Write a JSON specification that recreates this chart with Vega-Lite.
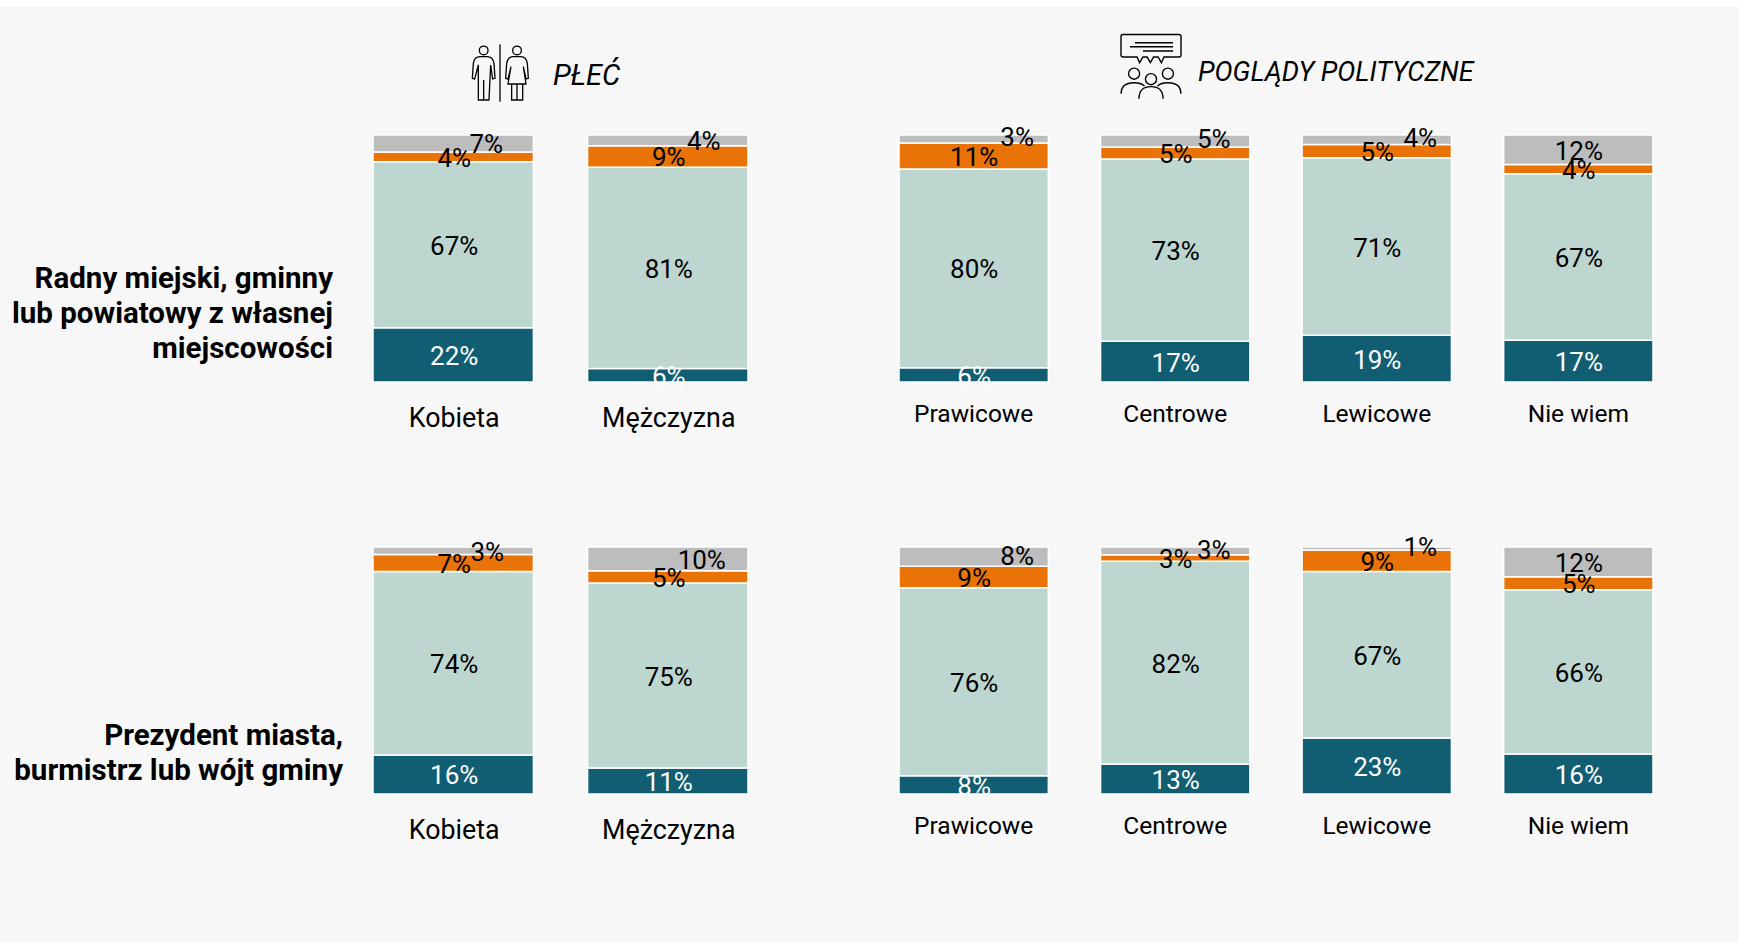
{"$schema":"https://vega.github.io/schema/vega-lite/v6.json","background":"#f7f7f7","padding":{"left":0,"right":0,"top":0,"bottom":98},"autosize":{"type":"pad"},"spacing":10,"config":{"view":{"stroke":null},"concat":{"spacing":0}},
"datasets":{"bars":[
{"row":"r1","panel":"g","category":"Kobieta","segment":"s1","value":22.0,"label":"22%"},{"row":"r1","panel":"g","category":"Kobieta","segment":"s2","value":67.2,"label":"67%"},{"row":"r1","panel":"g","category":"Kobieta","segment":"s3","value":3.9,"label":"4%"},{"row":"r1","panel":"g","category":"Kobieta","segment":"s4","value":6.9,"label":"7%"},
{"row":"r1","panel":"g","category":"Mężczyzna","segment":"s1","value":5.5,"label":"6%"},{"row":"r1","panel":"g","category":"Mężczyzna","segment":"s2","value":81.4,"label":"81%"},{"row":"r1","panel":"g","category":"Mężczyzna","segment":"s3","value":8.8,"label":"9%"},{"row":"r1","panel":"g","category":"Mężczyzna","segment":"s4","value":4.3,"label":"4%"},
{"row":"r1","panel":"p","category":"Prawicowe","segment":"s1","value":5.8,"label":"6%"},{"row":"r1","panel":"p","category":"Prawicowe","segment":"s2","value":80.4,"label":"80%"},{"row":"r1","panel":"p","category":"Prawicowe","segment":"s3","value":10.6,"label":"11%"},{"row":"r1","panel":"p","category":"Prawicowe","segment":"s4","value":3.2,"label":"3%"},
{"row":"r1","panel":"p","category":"Centrowe","segment":"s1","value":16.5,"label":"17%"},{"row":"r1","panel":"p","category":"Centrowe","segment":"s2","value":73.8,"label":"73%"},{"row":"r1","panel":"p","category":"Centrowe","segment":"s3","value":4.8,"label":"5%"},{"row":"r1","panel":"p","category":"Centrowe","segment":"s4","value":4.9,"label":"5%"},
{"row":"r1","panel":"p","category":"Lewicowe","segment":"s1","value":18.9,"label":"19%"},{"row":"r1","panel":"p","category":"Lewicowe","segment":"s2","value":71.9,"label":"71%"},{"row":"r1","panel":"p","category":"Lewicowe","segment":"s3","value":5.4,"label":"5%"},{"row":"r1","panel":"p","category":"Lewicowe","segment":"s4","value":3.8,"label":"4%"},
{"row":"r1","panel":"p","category":"Nie wiem","segment":"s1","value":16.9,"label":"17%"},{"row":"r1","panel":"p","category":"Nie wiem","segment":"s2","value":67.4,"label":"67%"},{"row":"r1","panel":"p","category":"Nie wiem","segment":"s3","value":3.8,"label":"4%"},{"row":"r1","panel":"p","category":"Nie wiem","segment":"s4","value":11.9,"label":"12%"},
{"row":"r2","panel":"g","category":"Kobieta","segment":"s1","value":15.8,"label":"16%"},{"row":"r2","panel":"g","category":"Kobieta","segment":"s2","value":74.3,"label":"74%"},{"row":"r2","panel":"g","category":"Kobieta","segment":"s3","value":6.9,"label":"7%"},{"row":"r2","panel":"g","category":"Kobieta","segment":"s4","value":3.0,"label":"3%"},
{"row":"r2","panel":"g","category":"Mężczyzna","segment":"s1","value":10.5,"label":"11%"},{"row":"r2","panel":"g","category":"Mężczyzna","segment":"s2","value":74.9,"label":"75%"},{"row":"r2","panel":"g","category":"Mężczyzna","segment":"s3","value":5.0,"label":"5%"},{"row":"r2","panel":"g","category":"Mężczyzna","segment":"s4","value":9.6,"label":"10%"},
{"row":"r2","panel":"p","category":"Prawicowe","segment":"s1","value":7.4,"label":"8%"},{"row":"r2","panel":"p","category":"Prawicowe","segment":"s2","value":76.1,"label":"76%"},{"row":"r2","panel":"p","category":"Prawicowe","segment":"s3","value":8.7,"label":"9%"},{"row":"r2","panel":"p","category":"Prawicowe","segment":"s4","value":7.8,"label":"8%"},
{"row":"r2","panel":"p","category":"Centrowe","segment":"s1","value":12.1,"label":"13%"},{"row":"r2","panel":"p","category":"Centrowe","segment":"s2","value":82.1,"label":"82%"},{"row":"r2","panel":"p","category":"Centrowe","segment":"s3","value":2.7,"label":"3%"},{"row":"r2","panel":"p","category":"Centrowe","segment":"s4","value":3.1,"label":"3%"},
{"row":"r2","panel":"p","category":"Lewicowe","segment":"s1","value":22.7,"label":"23%"},{"row":"r2","panel":"p","category":"Lewicowe","segment":"s2","value":67.4,"label":"67%"},{"row":"r2","panel":"p","category":"Lewicowe","segment":"s3","value":8.7,"label":"9%"},{"row":"r2","panel":"p","category":"Lewicowe","segment":"s4","value":1.2,"label":"1%"},
{"row":"r2","panel":"p","category":"Nie wiem","segment":"s1","value":16.2,"label":"16%"},{"row":"r2","panel":"p","category":"Nie wiem","segment":"s2","value":66.5,"label":"66%"},{"row":"r2","panel":"p","category":"Nie wiem","segment":"s3","value":5.3,"label":"5%"},{"row":"r2","panel":"p","category":"Nie wiem","segment":"s4","value":12.0,"label":"12%"}
]},
"vconcat":[
{"width":1739,"height":105,"data":{"values":[{"k":1}]},
 "layer":[
 {"mark":{"type":"rect","fill":"#ffffff"},"encoding":{"x":{"datum":0,"type":"quantitative","scale":{"domain":[0,1739],"nice":false},"axis":null},"x2":{"datum":1739},"y":{"datum":0,"type":"quantitative","scale":{"domain":[105,0],"nice":false,"zero":false},"axis":null},"y2":{"datum":7}}},
 {"mark":{"type":"text","text":"PŁEĆ","font":"Roboto","fontStyle":"italic","fontSize":29,"align":"left","baseline":"middle","color":"#000"},"encoding":{"x":{"datum":553,"type":"quantitative"},"y":{"datum":76,"type":"quantitative"}}},
 {"mark":{"type":"text","text":"POGLĄDY POLITYCZNE","font":"Roboto","fontStyle":"italic","fontSize":27,"align":"left","baseline":"middle","color":"#000"},"encoding":{"x":{"datum":1198,"type":"quantitative"},"y":{"datum":73,"type":"quantitative"}}},
 {"mark":{"type":"point","filled":false,"opacity":1,"stroke":"#000","strokeWidth":1.3,"size":3364,"shape":"M0,-0.99L0,0.99M-0.713,-0.78a0.15,0.15 0 1,0 0.3,0a0.15,0.15 0 1,0 -0.3,0M-0.874,0.207L-0.954,0.184L-0.92,-0.333Q-0.88,-0.563 -0.69,-0.563L-0.437,-0.563Q-0.247,-0.563 -0.207,-0.333L-0.172,0.184L-0.253,0.207L-0.322,-0.276L-0.38,0.931L-0.747,0.931L-0.747,-0.276ZM-0.563,0.241L-0.563,0.931M0.436,-0.78a0.15,0.15 0 1,0 0.3,0a0.15,0.15 0 1,0 -0.3,0M0.276,0.207L0.195,0.184L0.23,-0.333Q0.27,-0.563 0.46,-0.563L0.713,-0.563Q0.903,-0.563 0.943,-0.333L0.977,0.184L0.897,0.207L0.805,-0.218L0.897,0.379L0.276,0.379L0.379,-0.218ZM0.402,0.379L0.402,0.931L0.782,0.931L0.782,0.379M0.586,0.379L0.586,0.931"},"encoding":{"x":{"datum":500,"type":"quantitative"},"y":{"datum":73,"type":"quantitative"}}},
 {"mark":{"type":"point","filled":false,"opacity":1,"stroke":"#000","strokeWidth":1.4,"size":4225,"shape":"M-0.86,-0.985L0.86,-0.985Q0.923,-0.985 0.923,-0.92L0.923,-0.36Q0.923,-0.292 0.86,-0.292L0.4,-0.292L0.32,-0.117L0.215,-0.292L0.08,-0.292L-0.02,-0.117L-0.12,-0.292L-0.246,-0.292L-0.35,-0.117L-0.43,-0.292L-0.86,-0.292Q-0.923,-0.292 -0.923,-0.36L-0.923,-0.92Q-0.923,-0.985 -0.86,-0.985ZM-0.49,-0.73L0.68,-0.73M-0.646,-0.61L0.68,-0.61M-0.246,-0.477L0.68,-0.477M-0.69,0.22a0.17,0.17 0 1,0 0.34,0a0.17,0.17 0 1,0 -0.34,0M-0.17,0.39a0.17,0.17 0 1,0 0.34,0a0.17,0.17 0 1,0 -0.34,0M0.35,0.22a0.17,0.17 0 1,0 0.34,0a0.17,0.17 0 1,0 -0.34,0M-0.92,0.84Q-0.92,0.5 -0.52,0.5Q-0.3,0.5 -0.2,0.6M0.92,0.84Q0.92,0.5 0.52,0.5Q0.3,0.5 0.2,0.6M-0.37,0.99Q-0.37,0.62 0,0.62Q0.37,0.62 0.37,0.99"},"encoding":{"x":{"datum":1151,"type":"quantitative"},"y":{"datum":66.5,"type":"quantitative"}}}
 ]},
{"bounds":"flush","spacing":0,"hconcat":[
 {"width":374,"height":267,"data":{"values":[{"question":"Radny miejski, gminny\nlub powiatowy z własnej\nmiejscowości"}]},"mark":{"type":"text","lineBreak":"\n","lineHeight":35,"font":"Roboto","fontWeight":"bold","fontSize":29.5,"align":"right","baseline":"middle","color":"#000"},"encoding":{"text":{"field":"question"},"x":{"datum":333,"type":"quantitative","scale":{"domain":[0,374],"nice":false},"axis":null},"y":{"datum":0.418,"type":"quantitative","scale":{"domain":[0,1.081],"nice":false},"axis":null}}},
 {"width":526,"height":267,"data":{"name":"bars"},"transform":[{"filter":"datum.row==='r1'&&datum.panel==='g'"},{"stack":"value","groupby":["category"],"offset":"normalize","sort":[{"field":"segment"}],"as":["y0","y1"]},{"calculate":"(datum.y0+datum.y1)/2","as":"mid"}],
  "encoding":{"x":{"field":"category","type":"nominal","sort":["Kobieta","Mężczyzna"],"scale":{"domain":["Kobieta","Mężczyzna"],"range":[-1,374],"paddingInner":0.2523,"paddingOuter":0},"axis":{"title":null,"labelAngle":0,"ticks":false,"domain":false,"labelFont":"Roboto","labelFontSize":26.8,"labelColor":"#000","labelPadding":23,"labelOffset":1}}},
  "layer":[
   {"mark":{"type":"bar","stroke":"#ffffff","strokeWidth":1.5},"encoding":{"y":{"field":"y0","type":"quantitative","scale":{"domain":[0,1.081],"nice":false},"axis":null},"y2":{"field":"y1"},"color":{"field":"segment","type":"nominal","scale":{"domain":["s1","s2","s3","s4"],"range":["#115e73","#bed6d0","#ea7307","#bebdbe"]},"legend":null}}},
   {"transform":[{"filter":"datum.segment!=='s4'"}],"mark":{"type":"text","font":"Roboto","fontSize":26,"baseline":"middle","dx":1,"dy":2},"encoding":{"y":{"field":"mid","type":"quantitative","scale":{"domain":[0,1.081],"nice":false},"axis":null},"text":{"field":"label"},"color":{"condition":{"test":"datum.segment==='s1'","value":"#ffffff"},"value":"#000000"}}},
   {"transform":[{"filter":"datum.segment==='s4'&&datum.category==='Kobieta'"}],"mark":{"type":"text","font":"Roboto","fontSize":26,"baseline":"middle","dx":33,"dy":1,"color":"#000"},"encoding":{"y":{"field":"mid","type":"quantitative","scale":{"domain":[0,1.081],"nice":false},"axis":null},"text":{"field":"label"}}},
   {"transform":[{"filter":"datum.segment==='s4'&&datum.category==='Mężczyzna'"}],"mark":{"type":"text","font":"Roboto","fontSize":26,"baseline":"middle","dx":36,"dy":2,"color":"#000"},"encoding":{"y":{"field":"mid","type":"quantitative","scale":{"domain":[0,1.081],"nice":false},"axis":null},"text":{"field":"label"}}}
  ]},
 {"width":752,"height":267,"data":{"name":"bars"},"transform":[{"filter":"datum.row==='r1'&&datum.panel==='p'"},{"stack":"value","groupby":["category"],"offset":"normalize","sort":[{"field":"segment"}],"as":["y0","y1"]},{"calculate":"(datum.y0+datum.y1)/2","as":"mid"}],
  "encoding":{"x":{"field":"category","type":"nominal","sort":["Prawicowe","Centrowe","Lewicowe","Nie wiem"],"scale":{"domain":["Prawicowe","Centrowe","Lewicowe","Nie wiem"],"range":[-1,753],"paddingInner":0.259,"paddingOuter":0},"axis":{"title":null,"labelAngle":0,"ticks":false,"domain":false,"labelFont":"Roboto","labelFontSize":24.5,"labelColor":"#000","labelPadding":20}}},
  "layer":[
   {"mark":{"type":"bar","stroke":"#ffffff","strokeWidth":1.5},"encoding":{"y":{"field":"y0","type":"quantitative","scale":{"domain":[0,1.081],"nice":false},"axis":null},"y2":{"field":"y1"},"color":{"field":"segment","type":"nominal","scale":{"domain":["s1","s2","s3","s4"],"range":["#115e73","#bed6d0","#ea7307","#bebdbe"]},"legend":null}}},
   {"transform":[{"filter":"datum.segment!=='s4'||datum.category==='Nie wiem'"}],"mark":{"type":"text","font":"Roboto","fontSize":26,"baseline":"middle","dx":0.5,"dy":2},"encoding":{"y":{"field":"mid","type":"quantitative","scale":{"domain":[0,1.081],"nice":false},"axis":null},"text":{"field":"label"},"color":{"condition":{"test":"datum.segment==='s1'","value":"#ffffff"},"value":"#000000"}}},
   {"transform":[{"filter":"datum.segment==='s4'&&datum.category!=='Nie wiem'&&datum.category!=='Centrowe'"}],"mark":{"type":"text","font":"Roboto","fontSize":26,"baseline":"middle","dx":43.5,"dy":-1,"color":"#000"},"encoding":{"y":{"field":"mid","type":"quantitative","scale":{"domain":[0,1.081],"nice":false},"axis":null},"text":{"field":"label"}}},
   {"transform":[{"filter":"datum.segment==='s4'&&datum.category==='Centrowe'"}],"mark":{"type":"text","font":"Roboto","fontSize":26,"baseline":"middle","dx":38.5,"dy":-1,"color":"#000"},"encoding":{"y":{"field":"mid","type":"quantitative","scale":{"domain":[0,1.081],"nice":false},"axis":null},"text":{"field":"label"}}}
  ]}
]},
{"bounds":"flush","spacing":0,"hconcat":[
 {"width":374,"height":352,"data":{"values":[{"question":"Prezydent miasta,\nburmistrz lub wójt gminy"}]},"mark":{"type":"text","lineBreak":"\n","lineHeight":35,"font":"Roboto","fontWeight":"bold","fontSize":29.5,"align":"right","baseline":"middle","color":"#000"},"encoding":{"text":{"field":"question"},"x":{"datum":343,"type":"quantitative","scale":{"domain":[0,374],"nice":false},"axis":null},"y":{"datum":0.236,"type":"quantitative","scale":{"domain":[0,1.4251],"nice":false},"axis":null}}},
 {"width":526,"height":352,"data":{"name":"bars"},"transform":[{"filter":"datum.row==='r2'&&datum.panel==='g'"},{"stack":"value","groupby":["category"],"offset":"normalize","sort":[{"field":"segment"}],"as":["y0","y1"]},{"calculate":"(datum.y0+datum.y1)/2","as":"mid"}],
  "encoding":{"x":{"field":"category","type":"nominal","sort":["Kobieta","Mężczyzna"],"scale":{"domain":["Kobieta","Mężczyzna"],"range":[-1,374],"paddingInner":0.2523,"paddingOuter":0},"axis":{"title":null,"labelAngle":0,"ticks":false,"domain":false,"labelFont":"Roboto","labelFontSize":26.8,"labelColor":"#000","labelPadding":23,"labelOffset":1}}},
  "layer":[
   {"mark":{"type":"bar","stroke":"#ffffff","strokeWidth":1.5},"encoding":{"y":{"field":"y0","type":"quantitative","scale":{"domain":[0,1.4251],"nice":false},"axis":null},"y2":{"field":"y1"},"color":{"field":"segment","type":"nominal","scale":{"domain":["s1","s2","s3","s4"],"range":["#115e73","#bed6d0","#ea7307","#bebdbe"]},"legend":null}}},
   {"transform":[{"filter":"datum.segment!=='s4'"}],"mark":{"type":"text","font":"Roboto","fontSize":26,"baseline":"middle","dx":1,"dy":2},"encoding":{"y":{"field":"mid","type":"quantitative","scale":{"domain":[0,1.4251],"nice":false},"axis":null},"text":{"field":"label"},"color":{"condition":{"test":"datum.segment==='s1'","value":"#ffffff"},"value":"#000000"}}},
   {"transform":[{"filter":"datum.segment==='s4'"}],"mark":{"type":"text","font":"Roboto","fontSize":26,"baseline":"middle","dx":34,"dy":2,"color":"#000"},"encoding":{"y":{"field":"mid","type":"quantitative","scale":{"domain":[0,1.4251],"nice":false},"axis":null},"text":{"field":"label"}}}
  ]},
 {"width":752,"height":352,"data":{"name":"bars"},"transform":[{"filter":"datum.row==='r2'&&datum.panel==='p'"},{"stack":"value","groupby":["category"],"offset":"normalize","sort":[{"field":"segment"}],"as":["y0","y1"]},{"calculate":"(datum.y0+datum.y1)/2","as":"mid"}],
  "encoding":{"x":{"field":"category","type":"nominal","sort":["Prawicowe","Centrowe","Lewicowe","Nie wiem"],"scale":{"domain":["Prawicowe","Centrowe","Lewicowe","Nie wiem"],"range":[-1,753],"paddingInner":0.259,"paddingOuter":0},"axis":{"title":null,"labelAngle":0,"ticks":false,"domain":false,"labelFont":"Roboto","labelFontSize":24.5,"labelColor":"#000","labelPadding":20}}},
  "layer":[
   {"mark":{"type":"bar","stroke":"#ffffff","strokeWidth":1.5},"encoding":{"y":{"field":"y0","type":"quantitative","scale":{"domain":[0,1.4251],"nice":false},"axis":null},"y2":{"field":"y1"},"color":{"field":"segment","type":"nominal","scale":{"domain":["s1","s2","s3","s4"],"range":["#115e73","#bed6d0","#ea7307","#bebdbe"]},"legend":null}}},
   {"transform":[{"filter":"datum.segment!=='s4'||datum.category==='Nie wiem'"}],"mark":{"type":"text","font":"Roboto","fontSize":26,"baseline":"middle","dx":0.5,"dy":2},"encoding":{"y":{"field":"mid","type":"quantitative","scale":{"domain":[0,1.4251],"nice":false},"axis":null},"text":{"field":"label"},"color":{"condition":{"test":"datum.segment==='s1'","value":"#ffffff"},"value":"#000000"}}},
   {"transform":[{"filter":"datum.segment==='s4'&&datum.category!=='Nie wiem'&&datum.category!=='Centrowe'"}],"mark":{"type":"text","font":"Roboto","fontSize":26,"baseline":"middle","dx":43.5,"dy":0,"color":"#000"},"encoding":{"y":{"field":"mid","type":"quantitative","scale":{"domain":[0,1.4251],"nice":false},"axis":null},"text":{"field":"label"}}},
   {"transform":[{"filter":"datum.segment==='s4'&&datum.category==='Centrowe'"}],"mark":{"type":"text","font":"Roboto","fontSize":26,"baseline":"middle","dx":38.5,"dy":0,"color":"#000"},"encoding":{"y":{"field":"mid","type":"quantitative","scale":{"domain":[0,1.4251],"nice":false},"axis":null},"text":{"field":"label"}}}
  ]}
]}
]}
